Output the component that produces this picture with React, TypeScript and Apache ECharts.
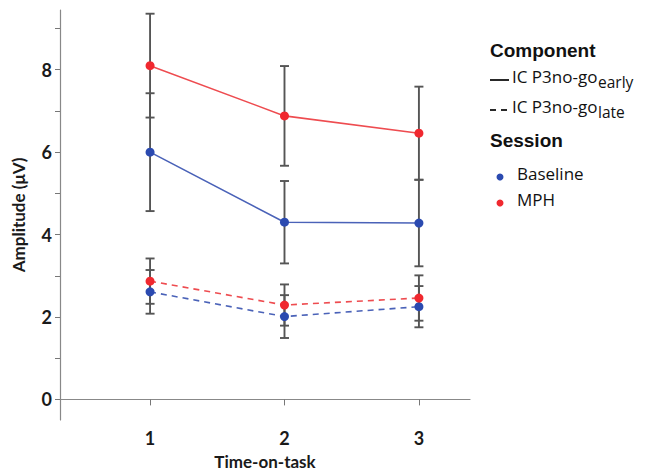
import React, { useEffect, useRef } from "react";
import * as echarts from "echarts";

const timeOnTask = [1, 2, 3];
const baselineEarly = [6.0, 4.3, 4.28];
const baselineEarlyErr = [1.43, 1.0, 1.05];
const mphEarly = [8.1, 6.88, 6.46];
const mphEarlyErr = [1.26, 1.21, 1.13];
const baselineLate = [2.61, 2.01, 2.25];
const baselineLateErr = [0.53, 0.52, 0.5];
const mphLate = [2.87, 2.29, 2.46];
const mphLateErr = [0.55, 0.5, 0.55];
const yTickValues = [0, 1, 2, 3, 4, 5, 6, 7, 8, 9];
const yLabelValues = [0, 2, 4, 6, 8];

const RED = "#f0282f";
const BLUE = "#2b4ab0";
const RED_LINE = "#ee4c50";
const BLUE_LINE = "#4a62b8";
const FONT = "Lato, 'Open Sans', sans-serif";
const LFONT = "'Open Sans', sans-serif";
const HFONT = "'Liberation Sans', Arial, sans-serif";

function pts(vals: number[]) {
  return timeOnTask.map((x, i) => [x, vals[i]]);
}
function errs(vals: number[], e: number[]) {
  return timeOnTask.map((x, i) => [x, vals[i] - e[i], vals[i] + e[i]]);
}

export default function App() {
  const ref = useRef<HTMLDivElement>(null);
  useEffect(() => {
    if (!ref.current) return;
    const chart = echarts.init(ref.current, null, { renderer: "svg" });
    const errData = [
      ...errs(baselineEarly, baselineEarlyErr),
      ...errs(mphEarly, mphEarlyErr),
      ...errs(baselineLate, baselineLateErr),
      ...errs(mphLate, mphLateErr),
    ];
    const lineSeries = (name: string, vals: number[], color: string, lineColor: string, dashed: boolean) => ({
      name,
      type: "line",
      data: pts(vals),
      symbol: "circle",
      symbolSize: 9,
      itemStyle: { color },
      lineStyle: { color: lineColor, width: 1.6, type: dashed ? [6, 5] : "solid" },
      z: 3,
    });
    chart.setOption({
      animation: false,
      grid: { left: 60, right: 183, top: 10, bottom: 55, outerBoundsMode: "none", containLabel: false },
      xAxis: {
        type: "value",
        min: 0.33,
        max: 3.38,
        splitLine: { show: false },
        axisLine: { lineStyle: { color: "#888", width: 1.2 } },
        axisTick: { customValues: timeOnTask, length: 6, lineStyle: { color: "#777" } },
        axisLabel: {
          customValues: timeOnTask,
          fontFamily: FONT,
          fontWeight: "bold",
          fontSize: 18,
          color: "#1a1a1a",
          margin: 9,
        },
        name: "Time-on-task",
        nameLocation: "middle",
        nameGap: 33,
        nameTextStyle: { fontFamily: FONT, fontWeight: "bold", fontSize: 17, color: "#1a1a1a" },
      },
      yAxis: {
        type: "value",
        min: -0.5,
        max: 9.45,
        splitLine: { show: false },
        axisLine: { show: true, lineStyle: { color: "#888", width: 1.2 } },
        axisTick: { show: true, customValues: yTickValues, length: 5, lineStyle: { color: "#777" } },
        axisLabel: {
          customValues: yLabelValues,
          fontFamily: FONT,
          fontWeight: "bold",
          fontSize: 18,
          color: "#1a1a1a",
          margin: 8,
        },
        name: "Amplitude (μV)",
        nameLocation: "middle",
        nameGap: 33,
        nameTextStyle: { fontFamily: FONT, fontWeight: "bold", fontSize: 17, color: "#1a1a1a" },
      },
      series: [
        {
          type: "custom",
          data: errData,
          z: 2,
          renderItem: (params: any, api: any) => {
            const x = api.value(0);
            const lo = api.coord([x, api.value(1)]);
            const hi = api.coord([x, api.value(2)]);
            const hw = 4.5;
            const style = { stroke: "#555", lineWidth: 1.9 };
            return {
              type: "group",
              children: [
                { type: "line", shape: { x1: lo[0], y1: lo[1], x2: hi[0], y2: hi[1] }, style },
                { type: "line", shape: { x1: lo[0] - hw, y1: lo[1], x2: lo[0] + hw, y2: lo[1] }, style },
                { type: "line", shape: { x1: hi[0] - hw, y1: hi[1], x2: hi[0] + hw, y2: hi[1] }, style },
              ],
            };
          },
        },
        lineSeries("Baseline early", baselineEarly, BLUE, BLUE_LINE, false),
        lineSeries("MPH early", mphEarly, RED, RED_LINE, false),
        lineSeries("Baseline late", baselineLate, BLUE, BLUE_LINE, true),
        lineSeries("MPH late", mphLate, RED, RED_LINE, true),
      ],
      graphic: [
        { type: "text", left: 490, top: 41, style: { text: "Component", fontFamily: HFONT, fontWeight: "bold", fontSize: 19, fill: "#111" } },
        { type: "line", shape: { x1: 490, y1: 80, x2: 509, y2: 80 }, style: { stroke: "#111", lineWidth: 1.8 } },
        { type: "text", left: 512, top: 68, style: { text: "IC P3no-go", fontFamily: LFONT, fontSize: 17, fill: "#111" } },
        { type: "text", left: 598, top: 74, style: { text: "early", fontFamily: LFONT, fontSize: 15.5, fill: "#111" } },
        { type: "line", shape: { x1: 490, y1: 110, x2: 496, y2: 110 }, style: { stroke: "#111", lineWidth: 1.8 } },
        { type: "line", shape: { x1: 501, y1: 110, x2: 507, y2: 110 }, style: { stroke: "#111", lineWidth: 1.8 } },
        { type: "text", left: 512, top: 98, style: { text: "IC P3no-go", fontFamily: LFONT, fontSize: 17, fill: "#111" } },
        { type: "text", left: 598, top: 104, style: { text: "late", fontFamily: LFONT, fontSize: 15.5, fill: "#111" } },
        { type: "text", left: 490, top: 131, style: { text: "Session", fontFamily: HFONT, fontWeight: "bold", fontSize: 19, fill: "#111" } },
        { type: "circle", shape: { cx: 500, cy: 177, r: 3.5 }, style: { fill: BLUE } },
        { type: "text", left: 517, top: 165, style: { text: "Baseline", fontFamily: LFONT, fontSize: 17, fill: "#111" } },
        { type: "circle", shape: { cx: 500, cy: 203, r: 3.5 }, style: { fill: RED } },
        { type: "text", left: 517, top: 191, style: { text: "MPH", fontFamily: LFONT, fontSize: 17, fill: "#111" } },
      ],
    });
    return () => chart.dispose();
  }, []);
  return <div ref={ref} style={{ position: "absolute", left: 0, top: 0, width: 653, height: 475 }} />;
}
